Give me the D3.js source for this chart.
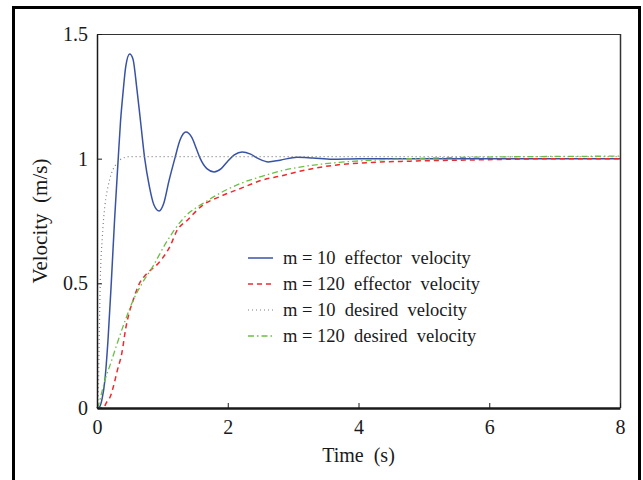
<!DOCTYPE html>
<html>
<head>
<meta charset="utf-8">
<script src="https://cdn.jsdelivr.net/npm/d3@7"></script>
<style>
  body { margin: 0; background: #fff; }
  text { font-family: "Liberation Serif", "Times New Roman", serif; fill: #1a1a1a; }
</style>
</head>
<body>
<div id="container"></div>
<script>
/* DATA */
const xTicks = [0, 2, 4, 6, 8];
const yTicks = [0, 0.5, 1, 1.5];
const yTickLabels = ["0", "0.5", "1", "1.5"];

// m = 10 effector velocity
const blueT = [0, 0.04, 0.08, 0.12, 0.17, 0.22, 0.27, 0.32, 0.36, 0.4, 0.44, 0.5, 0.55, 0.61, 0.67, 0.73, 0.8, 0.87, 0.95, 1.02, 1.1, 1.19, 1.27, 1.36, 1.45, 1.52, 1.58, 1.68, 1.79, 1.9, 2.0, 2.1, 2.22, 2.35, 2.47, 2.62, 2.8, 3.06, 3.3, 3.6, 4, 8];
const blueV = [0, 0.005, 0.04, 0.11, 0.28, 0.51, 0.76, 0.98, 1.15, 1.27, 1.37, 1.42, 1.40, 1.28, 1.14, 1.0, 0.89, 0.815, 0.79, 0.82, 0.91, 1.0, 1.075, 1.107, 1.085, 1.04, 1.0, 0.96, 0.947, 0.96, 0.99, 1.015, 1.027, 1.018, 1.0, 0.987, 0.994, 1.006, 1.003, 0.998, 1.0, 1.0];

// m = 120 effector velocity
const redT = [0, 0.1, 0.14, 0.21, 0.25, 0.31, 0.38, 0.44, 0.49, 0.55, 0.65, 0.75, 0.85, 0.92, 1.0, 1.12, 1.22, 1.39, 1.6, 1.9, 2.19, 2.54, 2.8, 3.2, 3.67, 4.2, 4.78, 5.8, 7, 8];
const redV = [0, 0, 0.02, 0.05, 0.085, 0.15, 0.22, 0.32, 0.38, 0.43, 0.5, 0.535, 0.56, 0.575, 0.6, 0.65, 0.71, 0.755, 0.81, 0.85, 0.88, 0.915, 0.93, 0.955, 0.975, 0.985, 0.99, 0.995, 1.0, 1.0];

// m = 10 desired velocity
const grayT = [0, 0.02, 0.035, 0.05, 0.08, 0.12, 0.17, 0.22, 0.3, 0.38, 0.5, 8];
const grayV = [0, 0.05, 0.3, 0.51, 0.68, 0.81, 0.89, 0.94, 0.98, 1.0, 1.008, 1.008];

// m = 120 desired velocity
const greenT = [0, 0.02, 0.07, 0.12, 0.21, 0.31, 0.43, 0.55, 0.69, 0.86, 1.05, 1.32, 1.68, 2.19, 2.6, 2.8, 3.2, 3.7, 4.3, 4.8, 5.8, 8];
const greenV = [0, 0.01, 0.06, 0.11, 0.18, 0.26, 0.35, 0.43, 0.5, 0.57, 0.66, 0.76, 0.83, 0.9, 0.935, 0.95, 0.97, 0.985, 0.995, 1.0, 1.006, 1.01];

const series = [
  { name: "m = 10  effector  velocity",  t: blueT,  v: blueV,  color: "#3853a4", dash: null,        w: 1.5 },
  { name: "m = 120  effector  velocity", t: redT,   v: redV,   color: "#ee2a2e", dash: "5,4",       w: 1.5 },
  { name: "m = 10  desired  velocity",   t: grayT,  v: grayV,  color: "#7f7f7f", dash: "1,3",       w: 1.2 },
  { name: "m = 120  desired  velocity",  t: greenT, v: greenV, color: "#6cbf45", dash: "6,3,1.5,3", w: 1.3 }
];

/* CONSTANTS */
const width = 643, height = 480;
const plotL = 97, plotR = 620, plotT = 34, plotB = 408;

const svg = d3.select("#container").append("svg")
  .attr("width", width)
  .attr("height", height);

// outer frame
svg.append("rect")
  .attr("x", 13.5).attr("y", 7.5)
  .attr("width", 626).attr("height", 490)
  .attr("fill", "none").attr("stroke", "#000").attr("stroke-width", 3);

/* SCALES */
const x = d3.scaleLinear().domain([0, 8]).range([plotL, plotR]);
const y = d3.scaleLinear().domain([0, 1.5]).range([plotB, plotT]);

// top and right border of the plot box
svg.append("line").attr("x1", plotL).attr("x2", plotR).attr("y1", plotT + 0.5).attr("y2", plotT + 0.5)
  .attr("stroke", "#333").attr("stroke-width", 1);
svg.append("line").attr("x1", plotR + 0.5).attr("x2", plotR + 0.5).attr("y1", plotT).attr("y2", plotB)
  .attr("stroke", "#333").attr("stroke-width", 1.5);

/* LINES */
const line = d3.line().curve(d3.curveMonotoneX);
series.forEach(s => {
  svg.append("path")
    .attr("d", line(s.t.map((t, i) => [x(t), y(s.v[i])])))
    .attr("fill", "none")
    .attr("stroke", s.color)
    .attr("stroke-width", s.w)
    .attr("stroke-dasharray", s.dash);
});

/* AXES */
const xAxis = svg.append("g")
  .attr("transform", `translate(0, ${plotB})`)
  .call(d3.axisBottom(x).tickValues(xTicks).tickSizeInner(-5).tickSizeOuter(0).tickPadding(12));
xAxis.select(".domain").attr("stroke", "#1a1a1a").attr("stroke-width", 2.5);
xAxis.selectAll(".tick line").attr("stroke", "#1a1a1a");
xAxis.selectAll("text").attr("font-size", 20).attr("font-family", "Liberation Serif").attr("fill", "#1a1a1a");

const yAxis = svg.append("g")
  .attr("transform", `translate(${plotL}, 0)`)
  .call(d3.axisLeft(y).tickValues(yTicks).tickFormat((d, i) => yTickLabels[i])
    .tickSizeInner(-5).tickSizeOuter(0).tickPadding(9));
yAxis.select(".domain").attr("stroke", "#1a1a1a").attr("stroke-width", 1.5);
yAxis.selectAll(".tick line").attr("stroke", "#1a1a1a");
yAxis.selectAll("text").attr("font-size", 20).attr("font-family", "Liberation Serif").attr("fill", "#1a1a1a");

// axis labels
svg.append("text")
  .attr("x", (plotL + plotR) / 2)
  .attr("y", 462)
  .attr("text-anchor", "middle")
  .attr("font-size", 20)
  .style("white-space", "pre")
  .text("Time  (s)");

svg.append("text")
  .attr("transform", `translate(47, ${(plotT + plotB) / 2}) rotate(-90)`)
  .attr("text-anchor", "middle")
  .attr("font-size", 21)
  .style("white-space", "pre")
  .text("Velocity  (m/s)");

/* LEGEND */
const legend = svg.append("g").attr("transform", "translate(248, 258)");
series.forEach((s, i) => {
  const g = legend.append("g").attr("transform", `translate(0, ${i * 26})`);
  g.append("line")
    .attr("x1", 0).attr("x2", 25)
    .attr("stroke", s.color)
    .attr("stroke-width", s.w)
    .attr("stroke-dasharray", s.dash);
  g.append("text")
    .attr("x", 35).attr("y", 6)
    .attr("font-size", 18.5)
    .style("white-space", "pre")
    .text(s.name);
});
</script>
</body>
</html>
